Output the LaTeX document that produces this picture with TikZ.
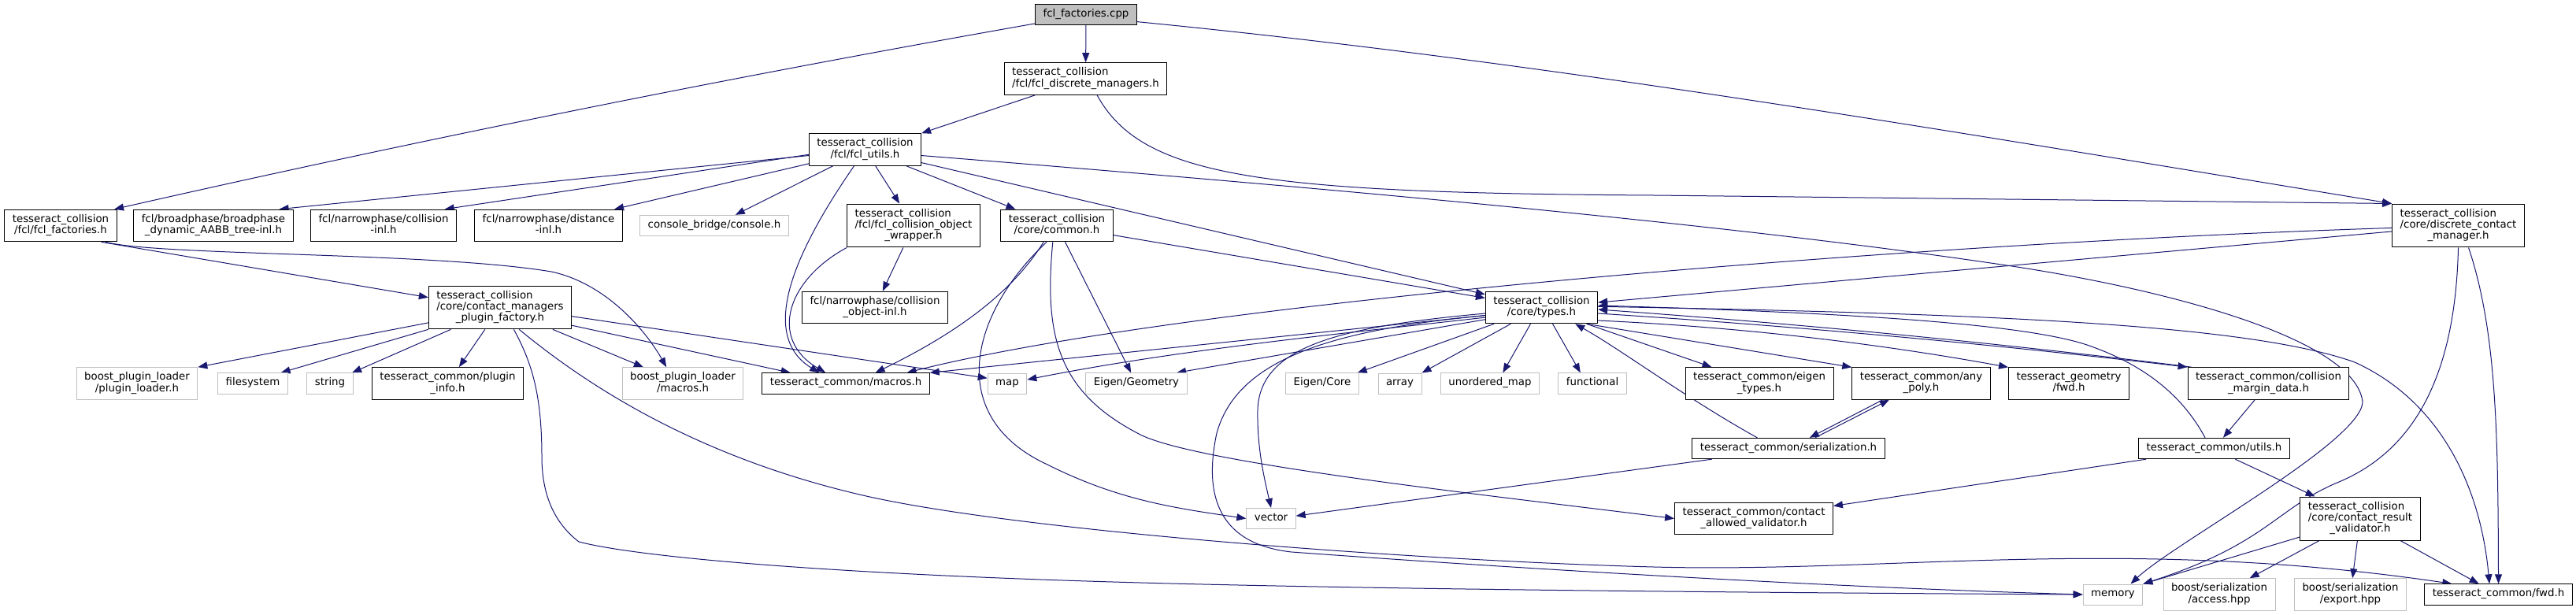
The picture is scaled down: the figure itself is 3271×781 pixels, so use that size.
\documentclass[tikz,border=0pt]{standalone}
\usepackage{fontspec}
\setmainfont{DejaVu Sans}
\usepackage{tikz}
\usetikzlibrary{arrows.meta,backgrounds}

\definecolor{edgeblue}{RGB}{25,25,112}
\renewcommand{\arraystretch}{0.875}
\newcommand{\onel}[1]{\begin{tabular}{@{}c@{}}#1\end{tabular}}
\newcommand{\twol}[2]{\begin{tabular}{@{}l@{}}#1\\\multicolumn{1}{@{}c@{}}{#2}\end{tabular}}
\newcommand{\threel}[3]{\begin{tabular}{@{}l@{}}#1\\#2\\\multicolumn{1}{@{}c@{}}{#3}\end{tabular}}

\tikzset{
	hdr/.style={draw=black, fill=white, line width=0.75pt, inner xsep=7.5pt, inner ysep=4.5pt},
	sys/.style={hdr, draw=gray!50},
	src/.style={hdr, fill=gray!50},
	inc/.style={draw=edgeblue, line width=0.75pt, -{Triangle[length=9pt,width=6.75pt]}}
}

\begin{document}
\begin{tikzpicture}[x=0.75pt,y=-0.75pt]
				\useasboundingbox (0,0) rectangle (3271,781);
				
				% top of the include graph
				\node[src] (cpp) at (1379,18.5) {\onel{fcl\_factories.cpp}};
				\node[hdr] (fdm) at (1378.5,100) {\twol{tesseract\_collision}{/fcl/fcl\_discrete\_managers.h}};
				\node[hdr] (fu) at (1098.5,190) {\twol{tesseract\_collision}{/fcl/fcl\_utils.h}};
				
				\node[hdr] (ff) at (77,286.5) {\twol{tesseract\_collision}{/fcl/fcl\_factories.h}};
				\node[hdr] (bp) at (271,286.5) {\twol{fcl/broadphase/broadphase}{\_dynamic\_AABB\_tree-inl.h}};
				\node[hdr] (ci) at (487,286.5) {\twol{fcl/narrowphase/collision}{-inl.h}};
				\node[hdr] (di) at (696.5,286.5) {\twol{fcl/narrowphase/distance}{-inl.h}};
				\node[sys] (cb) at (907,286.5) {\onel{console\_bridge/console.h}};
				\node[hdr] (fcow) at (1160,286.5) {\threel{tesseract\_collision}{/fcl/fcl\_collision\_object}{\_wrapper.h}};
				\node[hdr] (cmn) at (1342,286.5) {\twol{tesseract\_collision}{/core/common.h}};
				\node[hdr] (dcm) at (3121.5,286.5) {\threel{tesseract\_collision}{/core/discrete\_contact}{\_manager.h}};
				
				\node[hdr] (pf) at (635,390.5) {\threel{tesseract\_collision}{/core/contact\_managers}{\_plugin\_factory.h}};
				\node[hdr] (coi) at (1111,390.5) {\twol{fcl/narrowphase/collision}{\_object-inl.h}};
				\node[hdr] (types) at (1957.5,390.5) {\twol{tesseract\_collision}{/core/types.h}};
				
				\node[sys] (bpl) at (174,487) {\twol{boost\_plugin\_loader}{/plugin\_loader.h}};
				\node[sys] (fs) at (321,487) {\onel{filesystem}};
				\node[sys] (str) at (419,487) {\onel{string}};
				\node[hdr] (pinfo) at (568.5,487) {\twol{tesseract\_common/plugin}{\_info.h}};
				\node[sys] (bplm) at (867,487) {\twol{boost\_plugin\_loader}{/macros.h}};
				\node[hdr] (tcm) at (1074,487) {\onel{tesseract\_common/macros.h}};
				\node[sys] (map) at (1279,487) {\onel{map}};
				\node[sys] (eg) at (1443,487) {\onel{Eigen/Geometry}};
				\node[sys] (ec) at (1679,487) {\onel{Eigen/Core}};
				\node[sys] (arr) at (1777.5,487) {\onel{array}};
				\node[sys] (um) at (1892,487) {\onel{unordered\_map}};
				\node[sys] (fn) at (2022,487) {\onel{functional}};
				\node[hdr] (et) at (2234,487) {\twol{tesseract\_common/eigen}{\_types.h}};
				\node[hdr] (ap) at (2439.5,487) {\twol{tesseract\_common/any}{\_poly.h}};
				\node[hdr] (tg) at (2627,487) {\twol{tesseract\_geometry}{/fwd.h}};
				\node[hdr] (cmd) at (2880.5,487) {\twol{tesseract\_common/collision}{\_margin\_data.h}};
				
				\node[hdr] (ser) at (2271,569.5) {\onel{tesseract\_common/serialization.h}};
				\node[hdr] (ut) at (2811.5,569.5) {\onel{tesseract\_common/utils.h}};
				
				\node[sys] (vec) at (1614,658.5) {\onel{vector}};
				\node[hdr] (cav) at (2227,658.5) {\twol{tesseract\_common/contact}{\_allowed\_validator.h}};
				\node[hdr] (crv) at (2997,658.5) {\threel{tesseract\_collision}{/core/contact\_result}{\_validator.h}};
				
				\node[sys] (mem) at (2683,755) {\onel{memory}};
				\node[sys] (acc) at (2818,755) {\twol{boost/serialization}{/access.hpp}};
				\node[sys] (exp) at (2984.5,755) {\twol{boost/serialization}{/export.hpp}};
				\node[hdr] (fwd) at (3172.5,755) {\onel{tesseract\_common/fwd.h}};
				
				\begin{scope}[on background layer]
				\fill[white] (0,0) rectangle (3271,781);
				
				% fcl_factories.cpp
				\draw[inc] (cpp.190) .. controls (922,99) and (531,178) .. (ff.17);
				\draw[inc] (cpp) -- (fdm);
				\draw[inc] (cpp.-8) .. controls (1979,80) and (2508,172) .. (dcm.north west);
				
				\draw[inc] (fdm.198) -- (fu.north east);
				\draw[inc] (fdm.-55) .. controls (1450,225) and (1600,245) .. (2100,248) -- (dcm.north west);
				
				\draw[inc] (ff.-22) -- (pf.172);
				\draw[inc] (ff.-20) .. controls (200,325) and (550,320) .. (700,345) .. controls (770,360) and (820,420) .. (bplm.135);
				
				% fcl_utils.h
				\draw[inc] (fu.186) -- (bp.14);
				\draw[inc] (fu.185) -- (ci.15);
				\draw[inc] (fu.194) -- (di.14);
				\draw[inc] (fu.207) -- (cb.27);
				\draw[inc] (fu) -- (fcow);
				\draw[inc] (fu) -- (cmn);
				\draw[inc] (fu) -- (types);
				\draw[inc] (fu.236) .. controls (995,340) and (970,430) .. (tcm.158);
				\draw[inc] (fu.-6) .. controls (1700,240) and (2200,285) .. (2548,337) .. controls (2750,367) and (2990,430) .. (3000,510) .. controls (3000,560) and (2760,690) .. (mem.31);
				
				\draw[inc] (fcow) -- (coi);
				\draw[inc] (fcow.south west) .. controls (1000,355) and (975,430) .. (tcm.152);
				
				% core/common.h
				\draw[inc] (cmn) -- (types);
				\draw[inc] (cmn.231) .. controls (1280,380) and (1200,430) .. (tcm.20);
				\draw[inc] (cmn.238) .. controls (1230,400) and (1200,530) .. (1330,590) .. controls (1420,635) and (1490,645) .. (vec.west);
				\draw[inc] (cmn) -- (eg);
				\draw[inc] (cmn.256) .. controls (1325,430) and (1345,500) .. (1450,553) .. controls (1530,590) and (1900,630) .. (cav.west);
				
				% plugin_factory.h
				\draw[inc] (pf.192) -- (bpl.north east);
				\draw[inc] (pf.south west) -- (fs.21);
				\draw[inc] (pf.204) -- (str.26);
				\draw[inc] (pf) -- (pinfo);
				\draw[inc] (pf) -- (bplm);
				\draw[inc] (pf.-14) -- (tcm.169);
				\draw[inc] (pf.-7) -- (map.165);
				\draw[inc] (pf.-58) .. controls (675,460) and (688,500) .. (688,580) .. controls (688,630) and (705,665) .. (735,688) .. controls (800,705) and (1000,725) .. (1350,737) .. controls (1700,749) and (2300,753) .. (mem.west);
				\draw[inc] (pf.-49) .. controls (740,485) and (880,580) .. (1100,630) .. controls (1300,675) and (1800,712) .. (2100,720) .. controls (2400,728) and (2700,680) .. (fwd.167);
				
				% discrete_contact_manager.h
				\draw[inc] (dcm) -- (types);
				\draw[inc] (dcm.182) .. controls (2400,310) and (1500,385) .. (tcm.10);
				\draw[inc] (dcm.south) .. controls (3118,470) and (3070,570) .. (2970,612) .. controls (2890,645) and (2880,690) .. (mem.north east);
				\draw[inc] (dcm.-65) .. controls (3170,420) and (3172,550) .. (fwd.north);
				
				% core/types.h
				\draw[inc] (types.188) -- (tcm.north east);
				\draw[inc] (types.190) .. controls (1692,425) and (1497,444) .. (map.11);
				\draw[inc] (types.192) -- (eg.15);
				\draw[inc] (types.199) -- (ec.17);
				\draw[inc] (types.208) -- (arr.north east);
				\draw[inc] (types.236) -- (um.40);
				\draw[inc] (types.-56) -- (fn.138);
				\draw[inc] (types.-20) -- (et.161);
				\draw[inc] (types.-20) -- (ap.north west);
				\draw[inc] (types.-13) .. controls (2204,415) and (2378,435) .. (tg.north west);
				\draw[inc] (types.-6) .. controls (2279,414) and (2529,437) .. (cmd.north west);
				\draw[inc] (types.1) .. controls (2500,398) and (2850,410) .. (2990,460) .. controls (3100,510) and (3150,620) .. (fwd.130);
				\draw[inc] (types.186) .. controls (1700,415) and (1600,440) .. (1597,520) .. controls (1596,570) and (1606,610) .. (vec.north);
				\draw[inc] (types.188) .. controls (1680,420) and (1570,460) .. (1545,550) .. controls (1530,620) and (1540,690) .. (1640,701) .. controls (1900,720) and (2300,745) .. (mem.west);
				
				% tesseract_common headers
				\draw[inc] (cmd.168) .. controls (2534,435) and (2281,411) .. (types.-2);
				\draw[inc] (cmd) -- (ut);
				\draw[inc] (ut.130) .. controls (2770,500) and (2720,462) .. (2650,438) .. controls (2560,408) and (2300,396) .. (types.2);
				\draw[inc] (ut.189) -- (cav.9);
				\draw[inc] (ut.-27) -- (crv.154);
				\draw[inc] (ser.161) .. controls (2140,505) and (2060,445) .. (types.-26);
				\draw[inc] (ser.22) -- (ap.207);
				\draw[inc] (ser.188) -- (vec.6);
				\draw[inc] (ap.203) -- (ser.27);
				
				\draw[inc] (crv.197) -- (mem.north east);
				\draw[inc] (crv) -- (acc);
				\draw[inc] (crv) -- (exp);
				\draw[inc] (crv) -- (fwd);
				\end{scope}
			\end{tikzpicture}
\end{document}
